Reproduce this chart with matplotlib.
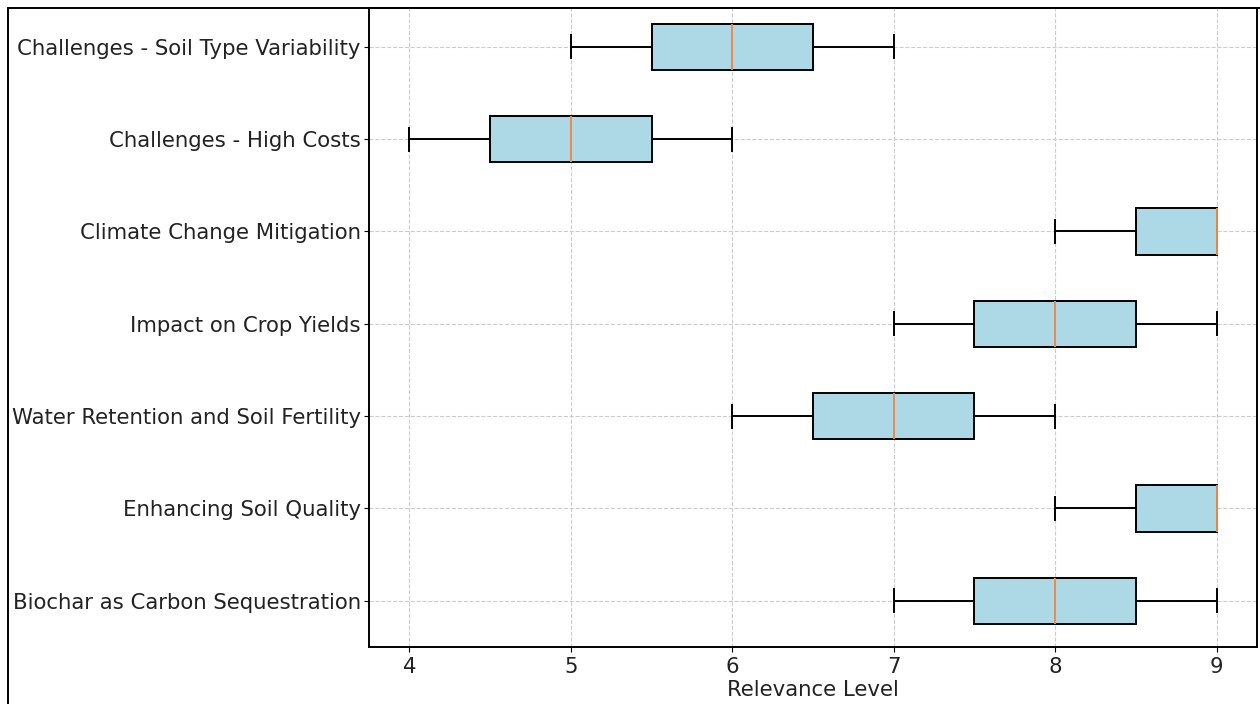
import matplotlib.pyplot as plt
from matplotlib.patches import Rectangle

# categories bottom -> top
categories = [
    'Biochar as Carbon Sequestration',
    'Enhancing Soil Quality',
    'Water Retention and Soil Fertility',
    'Impact on Crop Yields',
    'Climate Change Mitigation',
    'Challenges - High Costs',
    'Challenges - Soil Type Variability',
]
biochar_carbon = [7, 8, 9]
soil_quality = [8, 9, 9]
water_retention = [6, 7, 8]
crop_yields = [7, 8, 9]
climate_mitigation = [8, 9, 9]
high_costs = [4, 5, 6]
soil_variability = [5, 6, 7]

data = [biochar_carbon, soil_quality, water_retention, crop_yields,
        climate_mitigation, high_costs, soil_variability]

fig = plt.figure(figsize=(12.6, 7.04), dpi=100)
ax = fig.add_axes([369 / 1260, 1 - 647 / 704, (1257 - 369) / 1260, (647 - 8) / 704])

bp = ax.boxplot(data, vert=False, patch_artist=True, widths=0.5,
                boxprops=dict(facecolor='lightblue', edgecolor='black', linewidth=1.4),
                whiskerprops=dict(linewidth=1.4),
                capprops=dict(linewidth=1.4),
                medianprops=dict(color='#f0884a', linewidth=1.4))

ax.set_yticks(range(1, len(categories) + 1))
ax.set_yticklabels(categories, fontsize=15.3, color='#222222')
ax.set_ylim(0.5, 7.42)
ax.tick_params(axis='y', pad=2.5)
ax.tick_params(axis='x', labelsize=15.3, labelcolor='#222222')
ax.set_xlabel('Relevance Level', fontsize=15.3, color='#222222', labelpad=2)
ax.grid(True, linestyle='--', color='#cccccc', linewidth=0.8)
ax.set_axisbelow(True)
for s in ax.spines.values():
    s.set_linewidth(1.4)

# outer frame of the screenshot
fig.patches.append(Rectangle((8 / 1260, -0.05), 1.2, 1 - 8 / 704 + 0.05,
                             transform=fig.transFigure, fill=False,
                             edgecolor='black', linewidth=1.4))

fig.savefig('out.png', dpi=100)
